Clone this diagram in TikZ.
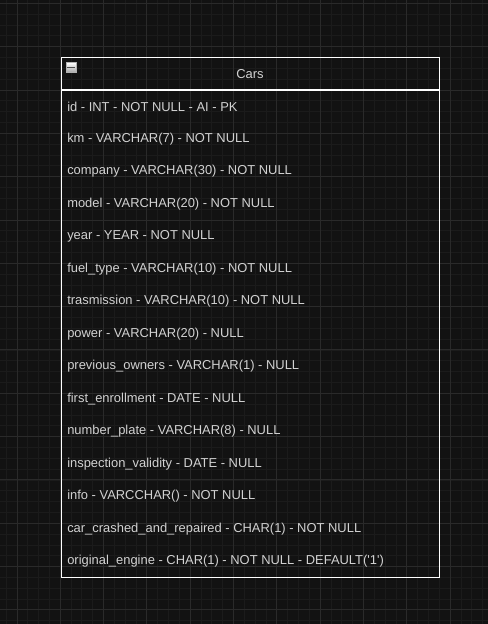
\documentclass[tikz,border=0pt]{standalone}
\usepackage{fontspec}
\setmainfont{Liberation Sans}
\usetikzlibrary{positioning}
\definecolor{canvas}{HTML}{121212}
\definecolor{gridminor}{HTML}{1B1B1B}
\definecolor{gridmajor}{HTML}{2A2A2A}
\definecolor{fieldtext}{HTML}{D2D2D2}
\tikzset{
  minorline/.style={draw=gridminor, line width=0.75pt},
  majorline/.style={draw=gridmajor, line width=0.75pt},
  tablehead/.style={draw=white, line width=0.75pt, minimum width=283.5pt, minimum height=24pt,
    inner sep=0pt, text=fieldtext, font=\fontsize{9.7}{12}\selectfont},
  tablebody/.style={draw=white, line width=0.75pt, minimum width=283.5pt, minimum height=364.5pt, inner sep=0pt},
  fieldrow/.style={anchor=west, inner sep=0pt, text=fieldtext, font=\fontsize{9.7}{12}\selectfont},
  toggle/.style={draw=gray!60, line width=0.4pt, minimum size=7.5pt, inner sep=0pt, top color=white, bottom color=gray!70}
}
\begin{document}
\begin{tikzpicture}[x=0.75pt,y=-0.75pt]

\fill [canvas] (0,0) rectangle (488,624);
\useasboundingbox (0,0) rectangle (488,624);

% grid
\foreach \k in {-2,...,44} \draw [minorline] ({17+10.83*\k},0) -- ({17+10.83*\k},624);
\foreach \k in {-1,...,57} \draw [minorline] (0,{3.5+10.83*\k}) -- (488,{3.5+10.83*\k});
\foreach \k in {0,...,11} \draw [majorline] ({17+43.3*\k},0) -- ({17+43.3*\k},624);
\foreach \k in {0,...,14} \draw [majorline] (0,{3.5+43.3*\k}) -- (488,{3.5+43.3*\k});

% table
\node [tablehead] (cars) at (250,74) {Cars};
\node [tablebody, below=0pt of cars] (body) {};
\node [toggle] (fold) at (71,67.5) {};
\draw [black!70, line width=0.9pt] ([xshift=1.3pt]fold.west) -- ([xshift=-1.3pt]fold.east);

\foreach \txt [count=\i] in {
  id - INT - NOT NULL - AI - PK,
  km - VARCHAR(7) - NOT NULL,
  company - VARCHAR(30) - NOT NULL,
  model - VARCHAR(20) - NOT NULL,
  year - YEAR - NOT NULL,
  fuel\_type - VARCHAR(10) - NOT NULL,
  trasmission - VARCHAR(10) - NOT NULL,
  power - VARCHAR(20) - NULL,
  previous\_owners - VARCHAR(1) - NULL,
  first\_enrollment - DATE - NULL,
  number\_plate - VARCHAR(8) - NULL,
  inspection\_validity - DATE - NULL,
  info - VARCCHAR() - NOT NULL,
  car\_crashed\_and\_repaired - CHAR(1) - NOT NULL,
  original\_engine - CHAR(1) - NOT NULL - DEFAULT(\textquotesingle 1\textquotesingle)}
  \node [fieldrow] (f\i) at (67,{106.5+32.5*(\i-1)}) {\txt};

\end{tikzpicture}
\end{document}
